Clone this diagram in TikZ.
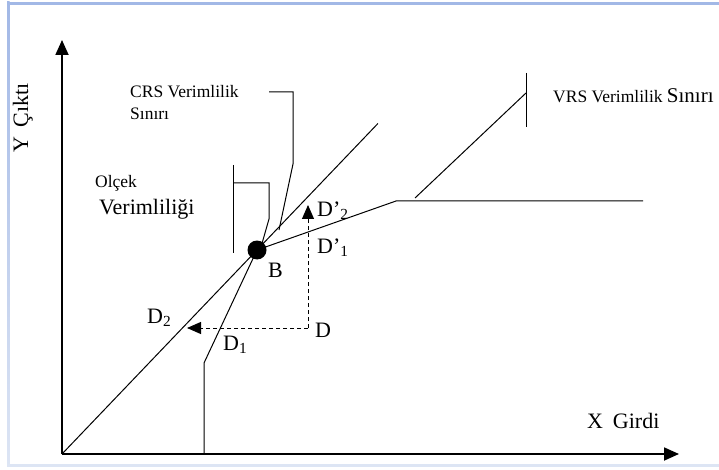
\documentclass[tikz,border=0pt]{standalone}
\usepackage{fontspec}
\setmainfont{Liberation Serif}
\usetikzlibrary{arrows.meta,calc}
\definecolor{frameblue}{HTML}{A2B8E6}
\definecolor{framelight}{HTML}{DDE5F4}
\tikzset{
  axisline/.style={line width=1.8pt,-{Triangle[length=15pt,width=13pt]}},
  frontier/.style={line width=1pt},
  guide/.style={line width=1pt,dash pattern=on 4pt off 3pt,-{Triangle[length=14pt,width=12pt]}},
  lead/.style={line width=1pt},
  smalltxt/.style={font=\fontsize{17.5}{20}\selectfont,inner sep=0pt},
  bigtxt/.style={font=\fontsize{22}{26}\selectfont,inner sep=0pt},
}
\begin{document}
\begin{tikzpicture}[x=1pt,y=-1pt]
\useasboundingbox (0,0) rectangle (719,470);
% frame
\fill[frameblue] (7,2) rectangle (719,5);
\shade[top color=frameblue,bottom color=framelight] (7,2) rectangle (9.5,466);
\fill[framelight] (7,463.5) rectangle (719,466.5);
% axes
\coordinate (O) at (62,454);
\coordinate (Ytop) at (62,40);
\coordinate (Xend) at (679,454);
\draw[axisline] (O) -- (Ytop);
\draw[axisline] (O) -- (Xend);
% point B
\coordinate (Bc) at (257,250);
\coordinate (CRSend) at ($(O)!1.62!(Bc)$);
\draw[frontier] (O) -- (CRSend);
% VRS frontier
\coordinate (V1) at (204,454);
\coordinate (V2) at (204,363);
\coordinate (V3) at (396,201);
\coordinate (V4) at (643,201);
\draw[frontier] (V1) -- (V2) -- (Bc) -- (V3) -- (V4);
\node[circle,fill=black,inner sep=0pt,minimum size=19pt] (B) at (Bc) {};
% projections
\coordinate (D) at (308,328);
\coordinate (D2tip) at (187,328);
\coordinate (Dp2tip) at (308,205);
\draw[guide] (D) -- (D2tip);
\draw[guide] (D) -- (Dp2tip);
% leaders
\coordinate (c1) at (269,92);
\coordinate (c2) at (293,92);
\coordinate (c3) at (293,164);
\coordinate (c4) at (279,230);
\draw[lead] (c1) -- (c2) -- (c3) -- (c4);
\coordinate (o1) at (233,165);
\coordinate (o2) at (233,253);
\coordinate (o3) at (233,183);
\coordinate (o4) at (269,183);
\coordinate (o5) at (269,219);
\coordinate (o6) at (261,247);
\draw[lead] (o1) -- (o2);
\draw[lead] (o3) -- (o4) -- (o5) -- (o6);
\coordinate (v1) at (526,73);
\coordinate (v2) at (526,127);
\coordinate (v3) at (526,93);
\coordinate (v4) at (415,198);
\draw[lead] (v1) -- (v2);
\draw[lead] (v3) -- (v4);
% labels
\node[bigtxt,rotate=90,anchor=base west] (ylab) at (28,153) {Y\hspace{0.45em}Çıktı};
\node[bigtxt,anchor=base west] (xlab) at (587,428) {X\hspace{0.45em}Girdi};
\node[smalltxt,anchor=base west] (crs1) at (130,98) {CRS Verimlilik};
\node[smalltxt,anchor=base west] (crs2) at (130,120) {Sınırı};
\node[smalltxt,anchor=base west] (olc1) at (95,188) {Olçek};
\node[bigtxt,anchor=base west] (olc2) at (99,214.5) {Verimliliği};
\node[anchor=base west,inner sep=0pt] (vrs) at (553,103) {\fontsize{17.5}{20}\selectfont VRS Verimlilik \fontsize{21}{26}\selectfont Sınırı};
\node[bigtxt,anchor=base west] (Blab) at (268,277) {B};
\node[bigtxt,anchor=base west] (Dlab) at (315,337) {D};
\node[bigtxt,anchor=base west] (D1lab) at (223,350) {D\textsubscript{1}};
\node[bigtxt,anchor=base west] (D2lab) at (147,323) {D\textsubscript{2}};
\node[bigtxt,anchor=base west] (Dp1lab) at (317,253) {D’\textsubscript{1}};
\node[bigtxt,anchor=base west] (Dp2lab) at (317,216) {D’\textsubscript{2}};
\end{tikzpicture}
\end{document}
